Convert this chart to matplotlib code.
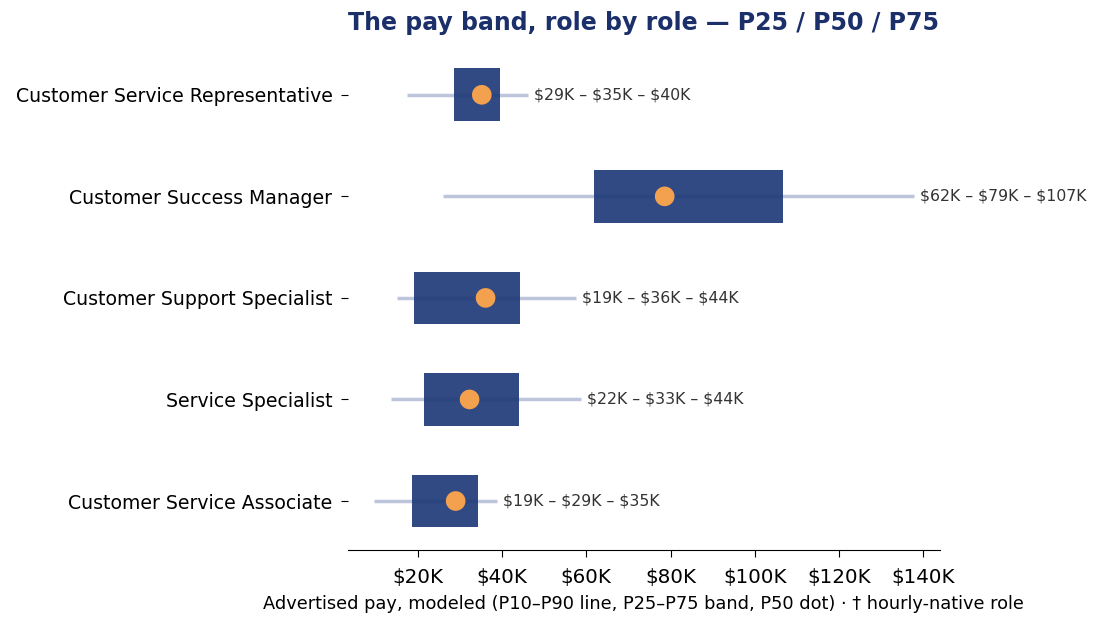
import matplotlib.pyplot as plt
from matplotlib.ticker import FuncFormatter

roles = ["Customer Service Associate", "Service Specialist", "Customer Support Specialist",
         "Customer Success Manager", "Customer Service Representative"]
p10 = [9.6, 13.6, 15.2, 25.9, 17.4]
p25 = [18.6, 21.4, 19.0, 61.8, 28.5]
p50 = [29.0, 32.3, 36.1, 78.6, 35.2]
p75 = [34.4, 44.0, 44.2, 106.6, 39.5]
p90 = [38.8, 58.7, 57.5, 137.7, 46.1]
band_labels = ["$19K – $29K – $35K", "$22K – $33K – $44K", "$19K – $36K – $44K",
               "$62K – $79K – $107K", "$29K – $35K – $40K"]

fig = plt.figure(figsize=(11.04, 6.29), dpi=100)
ax = fig.add_axes([0.315, 0.126, 0.536, 0.804])

y = list(range(len(roles)))
ax.hlines(y, p10, p90, color="#bcc5dc", lw=2.5, zorder=1)
ax.barh(y, [b - a for a, b in zip(p25, p75)], left=p25, height=0.52,
        color="#1f3a78", alpha=0.92, zorder=2)
ax.scatter(p50, y, s=200, color="#f4a14f", zorder=3, edgecolors="none")
for i in y:
    ax.text(p90[i] + 1.5, i, band_labels[i], va="center", ha="left",
            fontsize=11.3, color="#333333")

ax.set_yticks(y)
ax.set_yticklabels(roles, fontsize=13.6)
ax.set_xlim(3.4, 143.8)
ax.set_ylim(-0.48, 4.5)
ax.set_xticks([20, 40, 60, 80, 100, 120, 140])
ax.xaxis.set_major_formatter(FuncFormatter(lambda v, p: f"${v:.0f}K"))
ax.tick_params(axis="x", labelsize=14.3, length=5, pad=8)
ax.tick_params(axis="y", length=5, pad=6)
for s in ["top", "right", "left"]:
    ax.spines[s].set_visible(False)
ax.set_xlabel("Advertised pay, modeled (P10–P90 line, P25–P75 band, P50 dot) · † hourly-native role",
              fontsize=12.8, labelpad=6)
ax.set_title("The pay band, role by role — P25 / P50 / P75", fontsize=17,
             fontweight="bold", color="#1b2f6b", pad=10)

fig.savefig("out.png")
